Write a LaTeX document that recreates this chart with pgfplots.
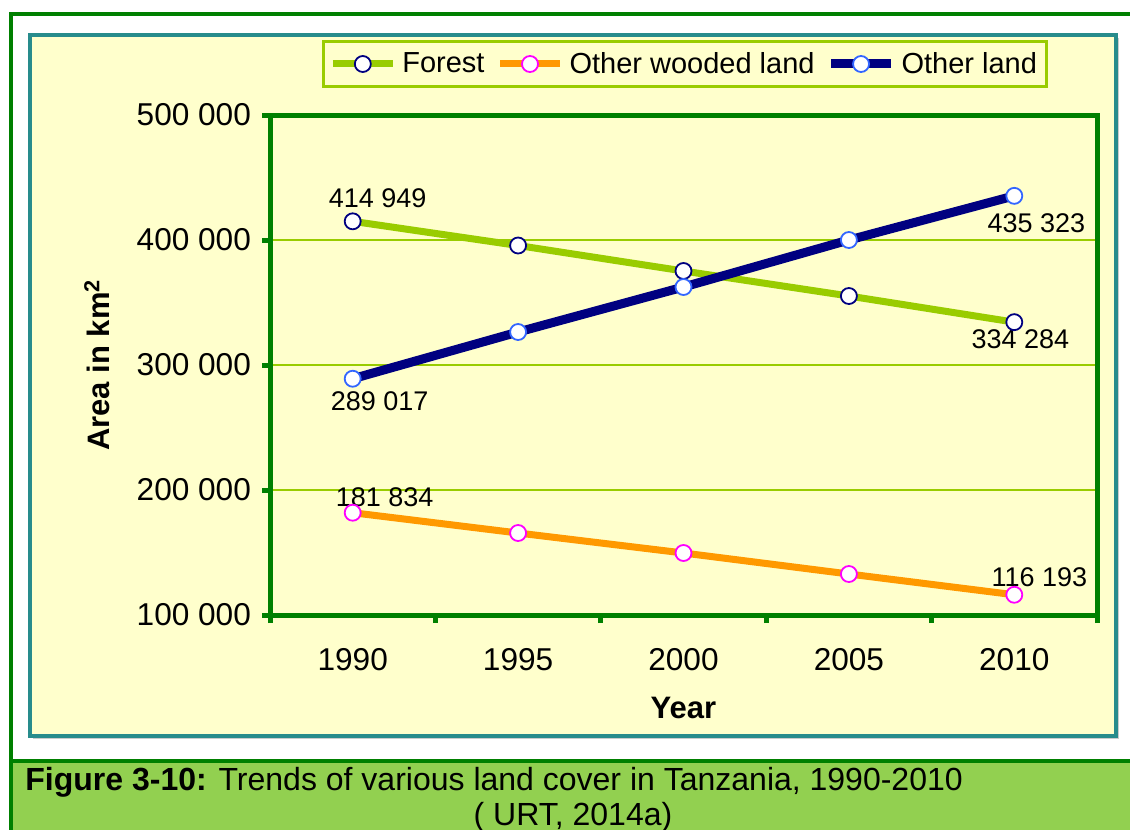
\documentclass[border=0pt]{standalone}
\usepackage{fontspec}
\setmainfont{Liberation Sans}
\usepackage{pgfplots}
\pgfplotsset{compat=1.18}
\definecolor{dkgreen}{RGB}{0,128,0}
\definecolor{lgreen}{RGB}{153,204,0}
\definecolor{bgyellow}{RGB}{255,255,204}
\definecolor{tealb}{RGB}{40,140,140}
\definecolor{capgreen}{RGB}{146,208,80}
\definecolor{navyb}{RGB}{0,0,128}
\definecolor{orangeb}{RGB}{255,153,0}
\definecolor{blueb}{RGB}{51,102,255}
\definecolor{magb}{RGB}{255,0,255}
\begin{document}
\begin{tikzpicture}
\path[use as bounding box] (0pt,0pt) rectangle (565pt,-415pt);
\begin{scope}[x=0.5pt,y=-0.5pt]
\fill[white] (0,0) rectangle (1130,830);
\draw[dkgreen,line width=1.6pt] (11,840) -- (11,14) -- (1140,14);
\fill[black!20] (33,38) rectangle (1119,739);
\draw[tealb,line width=1.6pt,fill=bgyellow] (30,35) rectangle (1116,736);
\end{scope}
\begin{axis}[
  at={(135pt,-307.5pt)}, anchor=south west,
  scale only axis, width=413.5pt, height=250pt,
  xmin=-0.5, xmax=4.5, ymin=100000, ymax=500000,
  xtick={0,1,2,3,4}, xticklabels={1990,1995,2000,2005,2010},
  minor xtick={-0.5,0.5,1.5,2.5,3.5,4.5},
  ytick={100000,200000,300000,400000,500000},
  yticklabels={100 000,200 000,300 000,400 000,500 000},
  scaled y ticks=false,
  xtick pos=bottom, ytick pos=left,
  tick align=outside,
  major tick length=4pt, minor tick length=4pt,
  major x tick style={draw=none},
  tick style={dkgreen, line width=2.5pt},
  axis line style={dkgreen, line width=2.5pt},
  ymajorgrids, grid style={lgreen, line width=0.8pt},
  tick label style={font=\fontsize{15.8pt}{18pt}\selectfont, black},
  yticklabel style={xshift=-2pt},
  xticklabel style={yshift=-9pt},
  xlabel={Year},
  xlabel style={at={(axis description cs:0.5,-0.186)}, anchor=center, font=\bfseries\fontsize{15.5pt}{18pt}\selectfont},
  ylabel={Area in km\textsuperscript{2}},
  ylabel style={at={(axis description cs:-0.209,0.5)}, anchor=center, font=\bfseries\fontsize{15.5pt}{18pt}\selectfont},
  clip=false,
  legend columns=3,
  legend style={at={(axis description cs:0.502,1.102)}, anchor=center,
    draw=lgreen, line width=1.5pt, fill=bgyellow,
    font=\fontsize{14.5pt}{17pt}\selectfont,
    inner xsep=3pt, inner ysep=3pt,
    nodes={inner sep=2pt},
    /tikz/every odd column/.append style={column sep=1pt},
    /tikz/every even column/.append style={column sep=4pt}},
  legend image code/.code={\draw[#1, mark repeat=2, mark phase=2] plot coordinates {(0pt,0pt) (15pt,0pt) (30pt,0pt)};},
]
\addplot[lgreen, line width=3.5pt, mark=*, mark size=4pt,
  mark options={fill=white, draw=navyb, line width=0.9pt}]
  coordinates {(0,414949) (1,395600) (2,375200) (3,355200) (4,334284)};
\addlegendentry{Forest}
\addplot[orangeb, line width=3.5pt, mark=*, mark size=4pt,
  mark options={fill=white, draw=magb, line width=0.9pt}]
  coordinates {(0,181834) (1,165600) (2,149600) (3,132800) (4,116193)};
\addlegendentry{Other wooded land}
\addplot[navyb, line width=4.5pt, mark=*, mark size=4pt,
  mark options={fill=white, draw=blueb, line width=0.9pt}]
  coordinates {(0,289017) (1,326400) (2,362400) (3,400000) (4,435323)};
\addlegendentry{Other land}
\begin{scope}[every node/.style={font=\fontsize{13.5pt}{16pt}\selectfont, inner sep=0pt}]
\node[xshift=12.5pt, yshift=11.5pt] at (axis cs:0,414949) {414 949};
\node[xshift=13.5pt, yshift=-11pt] at (axis cs:0,289017) {289 017};
\node[xshift=16pt, yshift=8pt] at (axis cs:0,181834) {181 834};
\node[xshift=12.5pt, yshift=9pt] at (axis cs:4,116193) {116 193};
\node[xshift=11pt, yshift=-13.5pt] at (axis cs:4,435323) {435 323};
\node[xshift=3pt, yshift=-8.5pt] at (axis cs:4,334284) {334 284};
\end{scope}
\end{axis}
\begin{scope}[x=0.5pt,y=-0.5pt]
\fill[capgreen] (11,761) rectangle (1140,840);
\draw[dkgreen,line width=1.6pt] (11,761) -- (1140,761);
\draw[dkgreen,line width=1.6pt] (11,761) -- (11,840);
\node[anchor=base west,inner sep=0pt,font=\fontsize{16pt}{19pt}\selectfont] at (25,790) {\textbf{Figure 3-10:} Trends of various land cover in Tanzania, 1990-2010};
\node[anchor=base,inner sep=0pt,font=\fontsize{16pt}{19pt}\selectfont] at (573,825) {( URT, 2014a)};
\end{scope}
\end{tikzpicture}
\end{document}
